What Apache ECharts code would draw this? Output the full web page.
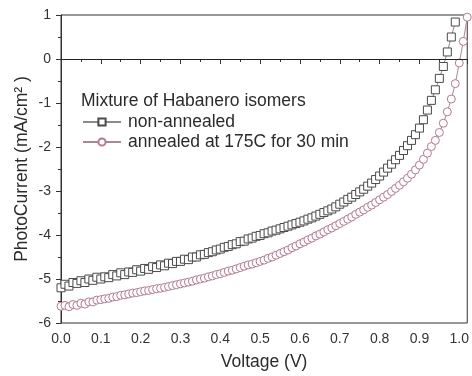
<!DOCTYPE html>
<html>
<head>
<meta charset="utf-8">
<script src="https://cdn.jsdelivr.net/npm/echarts@6/dist/echarts.min.js"></script>
<style>
  html, body { margin: 0; padding: 0; background: #ffffff; }
  #chart { width: 472px; height: 376px; }
</style>
</head>
<body>
<div id="chart"></div>
<script>
// Bias voltage sweep (V)
const voltage = [
  0.00, 0.01, 0.02, 0.03, 0.04, 0.05, 0.06, 0.07, 0.08, 0.09,
  0.10, 0.11, 0.12, 0.13, 0.14, 0.15, 0.16, 0.17, 0.18, 0.19,
  0.20, 0.21, 0.22, 0.23, 0.24, 0.25, 0.26, 0.27, 0.28, 0.29,
  0.30, 0.31, 0.32, 0.33, 0.34, 0.35, 0.36, 0.37, 0.38, 0.39,
  0.40, 0.41, 0.42, 0.43, 0.44, 0.45, 0.46, 0.47, 0.48, 0.49,
  0.50, 0.51, 0.52, 0.53, 0.54, 0.55, 0.56, 0.57, 0.58, 0.59,
  0.60, 0.61, 0.62, 0.63, 0.64, 0.65, 0.66, 0.67, 0.68, 0.69,
  0.70, 0.71, 0.72, 0.73, 0.74, 0.75, 0.76, 0.77, 0.78, 0.79,
  0.80, 0.81, 0.82, 0.83, 0.84, 0.85, 0.86, 0.87, 0.88, 0.89,
  0.90, 0.91, 0.92, 0.93, 0.94, 0.95, 0.96, 0.97, 0.98, 0.99,
  1.00, 1.01, 1.02
];

// Photocurrent, non-annealed film (mA/cm^2), 0.00 .. 0.99 V
const nonAnnealed = [
  -5.20, -5.12, -5.16, -5.08, -5.10, -5.04, -5.08, -5.00, -5.03, -4.96,
  -5.00, -4.95, -4.97, -4.90, -4.93, -4.86, -4.90, -4.84, -4.85, -4.79,
  -4.82, -4.76, -4.78, -4.72, -4.74, -4.68, -4.70, -4.64, -4.65, -4.60,
  -4.60, -4.55, -4.56, -4.50, -4.50, -4.45, -4.44, -4.40, -4.38, -4.34,
  -4.32, -4.28, -4.26, -4.22, -4.20, -4.15, -4.14, -4.09, -4.07, -4.03,
  -4.01, -3.97, -3.95, -3.91, -3.89, -3.86, -3.83, -3.80, -3.77, -3.74,
  -3.71, -3.68, -3.64, -3.61, -3.57, -3.53, -3.49, -3.45, -3.41, -3.36,
  -3.30, -3.25, -3.19, -3.14, -3.08, -3.02, -2.96, -2.89, -2.82, -2.74,
  -2.66, -2.57, -2.48, -2.39, -2.29, -2.19, -2.08, -1.97, -1.85, -1.72,
  -1.57, -1.38, -1.16, -0.94, -0.70, -0.44, -0.17, 0.16, 0.50, 0.84
];

// Photocurrent, annealed at 175C for 30 min (mA/cm^2), 0.00 .. 1.02 V
const annealed = [
  -5.62, -5.60, -5.63, -5.58, -5.60, -5.55, -5.57, -5.52, -5.52, -5.48,
  -5.47, -5.45, -5.44, -5.41, -5.40, -5.37, -5.36, -5.34, -5.32, -5.31,
  -5.29, -5.27, -5.26, -5.24, -5.22, -5.21, -5.19, -5.17, -5.15, -5.13,
  -5.11, -5.09, -5.07, -5.05, -5.02, -5.00, -4.98, -4.95, -4.93, -4.90,
  -4.88, -4.85, -4.82, -4.80, -4.77, -4.74, -4.71, -4.68, -4.66, -4.63,
  -4.60, -4.57, -4.53, -4.50, -4.46, -4.42, -4.38, -4.34, -4.29, -4.25,
  -4.20, -4.16, -4.11, -4.07, -4.02, -3.98, -3.93, -3.88, -3.84, -3.79,
  -3.74, -3.69, -3.64, -3.59, -3.53, -3.48, -3.43, -3.37, -3.32, -3.26,
  -3.20, -3.14, -3.08, -3.01, -2.94, -2.87, -2.79, -2.71, -2.62, -2.52,
  -2.41, -2.28, -2.14, -1.99, -1.85, -1.67, -1.46, -1.20, -0.91, -0.56,
  -0.09, 0.40, 0.95
];

const legendTitle = 'Mixture of Habanero isomers';
const seriesNames = ['non-annealed', 'annealed at 175C for 30 min'];

function pairs(ys) {
  return ys.map((y, i) => [voltage[i], y]);
}

const FONT = '"Liberation Sans", Arial, sans-serif';
const INK = '#2b2b2b';

const chart = echarts.init(document.getElementById('chart'), null, { renderer: 'canvas' });

chart.setOption({
  animation: false,
  backgroundColor: '#ffffff',
  textStyle: { fontFamily: FONT },
  title: {
    text: legendTitle,
    left: 81,
    top: 92,
    padding: 0,
    textStyle: { fontFamily: FONT, fontSize: 17.5, fontWeight: 'normal', color: INK }
  },
  legend: {
    orient: 'vertical',
    left: 82,
    top: 112,
    padding: 0,
    itemWidth: 38,
    itemHeight: 9,
    itemGap: 0,
    selectedMode: false,
    textStyle: { fontFamily: FONT, fontSize: 17.5, color: INK, lineHeight: 20, padding: [0, 0, 0, 2] },
    data: seriesNames
  },
  grid: {
    left: 61, right: 2, top: 15, bottom: 51,
    show: true,
    borderColor: '#333',
    borderWidth: 1,
    backgroundColor: 'transparent'
  },
  xAxis: {
    type: 'value',
    min: 0,
    max: 1.02,
    interval: 0.1,
    name: 'Voltage (V)',
    nameLocation: 'middle',
    nameGap: 30,
    nameMoveOverlap: false,
    nameTextStyle: { fontFamily: FONT, fontSize: 17.5, color: INK },
    axisLine: { show: true, lineStyle: { color: '#333', width: 1 } },
    axisTick: { show: true, inside: false, length: 5, lineStyle: { color: '#333' } },
    minorTick: { show: true, splitNumber: 2, length: 3, lineStyle: { color: '#333' } },
    splitLine: { show: false },
    axisLabel: {
      margin: 9,
      fontFamily: FONT,
      fontSize: 14,
      color: '#333',
      formatter: v => (Math.abs(v * 10 - Math.round(v * 10)) < 1e-6 ? v.toFixed(1) : '')
    }
  },
  yAxis: {
    type: 'value',
    min: -6,
    max: 1,
    interval: 1,
    name: 'PhotoCurrent (mA/cm² )',
    nameLocation: 'middle',
    nameRotate: 90,
    nameGap: 30,
    nameMoveOverlap: false,
    nameTextStyle: { fontFamily: FONT, fontSize: 17.5, color: INK },
    axisLine: { show: true, lineStyle: { color: '#333', width: 1 } },
    axisTick: { show: true, inside: false, length: 5, lineStyle: { color: '#333' } },
    minorTick: { show: true, splitNumber: 2, length: 3, lineStyle: { color: '#333' } },
    splitLine: { show: false },
    axisLabel: { margin: 10, fontFamily: FONT, fontSize: 14, color: '#333' }
  },
  series: [
    {
      name: seriesNames[0],
      type: 'line',
      data: pairs(nonAnnealed),
      symbol: 'rect',
      symbolSize: 8,
      showAllSymbol: true,
      clip: true,
      lineStyle: { color: '#8a8a8a', width: 1 },
      itemStyle: { color: '#ffffff', borderColor: '#4a4a4a', borderWidth: 1 },
      z: 3,
      markLine: {
        silent: true,
        symbol: ['none', 'none'],
        label: { show: false },
        lineStyle: { color: '#222', width: 1, type: 'solid' },
        data: [{ yAxis: 0 }]
      }
    },
    {
      name: seriesNames[1],
      type: 'line',
      data: pairs(annealed),
      symbol: 'circle',
      symbolSize: 8,
      showAllSymbol: true,
      clip: true,
      lineStyle: { color: '#a58a94', width: 1 },
      itemStyle: { color: '#ffffff', borderColor: '#b47a8c', borderWidth: 1 },
      z: 2
    }
  ]
});
</script>
</body>
</html>
